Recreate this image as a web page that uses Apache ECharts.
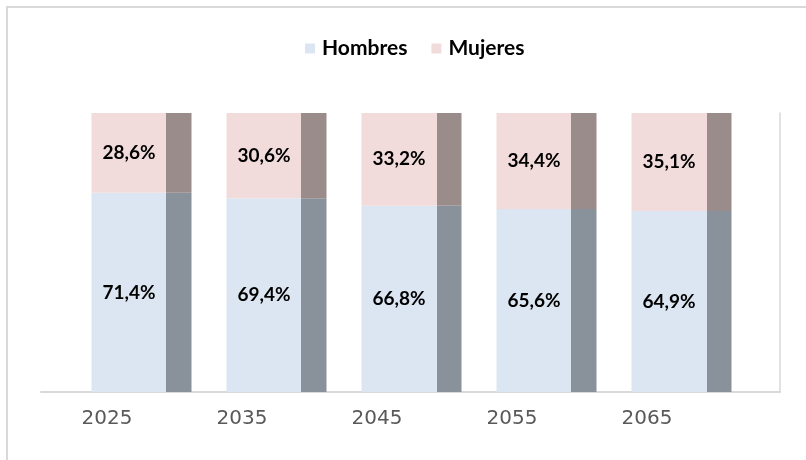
<!DOCTYPE html>
<html>
<head>
<meta charset="utf-8">
<script src="https://cdn.jsdelivr.net/npm/echarts@6/dist/echarts.min.js"></script>
<style>
html, body { margin: 0; padding: 0; background: #fff; }
#chart { width: 806px; height: 460px; }
</style>
</head>
<body>
<div id="chart"></div>
<script>
/* datos */
var years = ['2025', '2035', '2045', '2055', '2065'];
var hombres = [71.4, 69.4, 66.8, 65.6, 64.9];
var mujeres = [28.6, 30.6, 33.2, 34.4, 35.1];

// cara clara + lado oscuro (efecto 3D)
function barColor(light, dark) {
	return new echarts.graphic.LinearGradient(0, 0, 1, 0, [
		{offset: 0, color: light},
		{offset: 0.75, color: light},
		{offset: 0.75, color: dark},
		{offset: 1, color: dark}
	]);
}

var labelStyle = {
	show: true,
	position: 'inside',
	offset: [-12.5, 0],
	color: '#000',
	fontFamily: 'Lato',
	fontWeight: 'bold',
	fontSize: 19,
	formatter: function (p) {
		return p.value.toFixed(1).replace('.', ',') + '%';
	}
};

var chart = echarts.init(document.getElementById('chart'));
var option = {
	animation: false,
	backgroundColor: '#fff',
	graphic: [{
		type: 'rect',
		shape: {x: 7, y: 7, width: 900, height: 600},
		style: {fill: 'none', stroke: '#d9d9d9', lineWidth: 2},
		silent: true
	}],
	legend: {
		left: 300,
		top: 33,
		itemWidth: 10,
		itemHeight: 10,
		itemGap: 24,
		icon: 'rect',
		textStyle: {
			color: '#000',
			fontFamily: 'Lato',
			fontWeight: 'bold',
			fontSize: 21,
			padding: [0, 0, 0, 2]
		},
		data: [
			{name: 'Hombres', itemStyle: {color: '#dce6f2'}},
			{name: 'Mujeres', itemStyle: {color: '#f2dcdb'}}
		]
	},
	grid: [
		{left: 74, right: 57, top: 113, bottom: 68},
		{left: 41, right: 26, top: 113, bottom: 68}
	],
	xAxis: [{
		type: 'category',
		gridIndex: 0,
		data: years,
		axisLine: {show: false},
		axisTick: {show: false},
		axisLabel: {
			color: '#595959',
			fontFamily: 'DejaVu Sans',
			fontSize: 20,
			margin: 17,
			padding: [0, 69, 0, 0]
		}
	}, {
		type: 'value',
		gridIndex: 1,
		min: 0,
		max: 1,
		axisLine: {show: true, onZero: false, lineStyle: {color: '#d9d9d9', width: 2}},
		axisTick: {show: false},
		axisLabel: {show: false},
		splitLine: {show: false}
	}],
	yAxis: [{
		type: 'value',
		gridIndex: 0,
		min: 0,
		max: 100,
		show: false
	}, {
		type: 'value',
		gridIndex: 1,
		min: 0,
		max: 1,
		position: 'right',
		axisLine: {show: true, onZero: false, lineStyle: {color: '#d9d9d9', width: 1.5}},
		axisTick: {show: false},
		axisLabel: {show: false},
		splitLine: {show: false}
	}],
	series: [{
		name: 'Hombres',
		type: 'bar',
		stack: 'total',
		barWidth: 100,
		data: hombres,
		itemStyle: {color: barColor('#dce6f2', '#89919a')},
		label: labelStyle
	}, {
		name: 'Mujeres',
		type: 'bar',
		stack: 'total',
		barWidth: 100,
		data: mujeres,
		itemStyle: {color: barColor('#f2dcdb', '#9b8c8c')},
		label: labelStyle
	}]
};
chart.setOption(option);
</script>
</body>
</html>
